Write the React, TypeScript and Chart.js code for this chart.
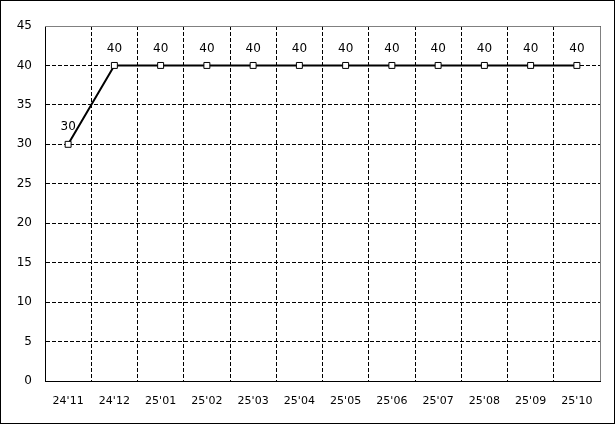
import React, { useEffect, useRef } from "react";
import { Chart, registerables } from "chart.js";

Chart.register(...registerables);

const categories = ["24'11", "24'12", "25'01", "25'02", "25'03", "25'04", "25'05", "25'06", "25'07", "25'08", "25'09", "25'10"];
const values = [30, 40, 40, 40, 40, 40, 40, 40, 40, 40, 40, 40];
const yTicks = [0, 5, 10, 15, 20, 25, 30, 35, 40, 45];

const W = 615;
const H = 424;

export default function App() {
  const ref = useRef<HTMLCanvasElement | null>(null);

  useEffect(() => {
    const canvas = ref.current;
    if (!canvas) return;

    const framePlugin = {
      id: "frame",
      beforeDraw(chart: any) {
        const ctx = chart.ctx;
        ctx.save();
        ctx.fillStyle = "#ffffff";
        ctx.fillRect(0, 0, W, H);
        ctx.strokeStyle = "#000000";
        ctx.lineWidth = 1;
        ctx.strokeRect(0.5, 0.5, W - 1, H - 1);
        ctx.restore();
      },
      beforeDatasetsDraw(chart: any) {
        const ctx = chart.ctx;
        const a = chart.chartArea;
        const t = Math.round(a.top) + 0.5;
        const r = Math.round(a.right) + 0.5;
        const b = Math.round(a.bottom);
        const l = Math.round(a.left);
        ctx.save();
        ctx.strokeStyle = "#808080";
        ctx.lineWidth = 1;
        ctx.setLineDash([]);
        ctx.beginPath();
        ctx.moveTo(l, t);
        ctx.lineTo(r, t);
        ctx.lineTo(r, b);
        ctx.stroke();
        ctx.restore();
      },
      afterDatasetsDraw(chart: any) {
        const ctx = chart.ctx;
        const meta = chart.getDatasetMeta(0);
        ctx.save();
        ctx.fillStyle = "#000000";
        ctx.font = "12px 'DejaVu Sans'";
        ctx.textAlign = "center";
        ctx.textBaseline = "middle";
        meta.data.forEach((pt: any, i: number) => {
          ctx.fillText(String(values[i]), pt.x, pt.y - 17);
        });
        ctx.restore();
      },
    };

    const chart = new Chart(canvas, {
      type: "line",
      data: {
        labels: categories,
        datasets: [
          {
            data: values,
            borderColor: "#000000",
            borderWidth: 2,
            pointStyle: "rect",
            pointRadius: 4.2,
            pointBackgroundColor: "#ffffff",
            pointBorderColor: "#000000",
            pointBorderWidth: 1,
            tension: 0,
          },
        ],
      },
      options: {
        responsive: false,
        animation: false,
        layout: { padding: { left: 0, right: 15, top: 26, bottom: 0 } },
        plugins: {
          legend: { display: false },
          tooltip: { enabled: false },
        },
        scales: {
          x: {
            offset: true,
            grid: { display: true, offset: true, color: "#000000", lineWidth: 1, drawTicks: false },
            border: { display: true, color: "#000000", width: 1, dash: [4, 2] },
            ticks: {
              color: "#000000",
              font: { family: "'DejaVu Sans'", size: 11 },
              padding: 14,
              maxRotation: 0,
              autoSkip: false,
            },
            afterFit(scale: any) {
              scale.height = 43;
            },
          },
          y: {
            min: 0,
            max: 45,
            afterBuildTicks(scale: any) {
              scale.ticks = yTicks.map((v) => ({ value: v }));
            },
            grid: { display: true, color: "#000000", lineWidth: 1, drawTicks: false },
            border: { display: true, color: "#000000", width: 1, dash: [4, 2] },
            ticks: {
              color: "#000000",
              font: { family: "'DejaVu Sans'", size: 12 },
              padding: 13,
            },
            afterFit(scale: any) {
              scale.width = 45;
            },
          },
        },
      },
      plugins: [framePlugin],
    });

    return () => chart.destroy();
  }, []);

  return (
    <div style={{ position: "absolute", left: 0, top: 0, width: W, height: H }}>
      <canvas ref={ref} width={W} height={H} style={{ width: W, height: H, display: "block" }} />
    </div>
  );
}
